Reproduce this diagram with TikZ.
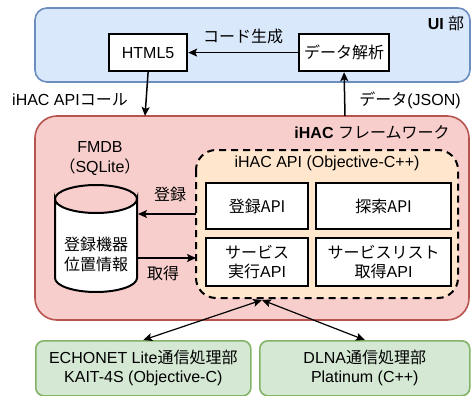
\documentclass[tikz,border=0pt]{standalone}
\usepackage{fontspec}
\setmainfont{Liberation Sans}
\newfontfamily\ja{Noto Sans CJK JP}
\usetikzlibrary{arrows.meta}
\definecolor{uifill}{HTML}{DAE8FC}
\definecolor{uiline}{HTML}{6C8EBF}
\definecolor{fwfill}{HTML}{F8CECC}
\definecolor{fwline}{HTML}{B85450}
\definecolor{apifill}{HTML}{FFE6CC}
\definecolor{commfill}{HTML}{D5E8D4}
\definecolor{commline}{HTML}{82B366}
\tikzset{
  txt/.style={font=\fontsize{16}{19}\selectfont, inner sep=0pt, align=center},
  group/.style={rounded corners=#1, line width=1.6pt},
  whitebox/.style={draw=black, fill=white, line width=2.2pt, txt, anchor=north west},
  flow/.style={line width=1.5pt, -{Stealth[length=9pt,width=8pt,inset=2pt]}},
  link/.style={line width=1.2pt, {Stealth[length=9pt,width=8pt,inset=2pt]}-{Stealth[length=9pt,width=8pt,inset=2pt]}},
}
\begin{document}
\begin{tikzpicture}[x=1pt,y=-1pt]
\useasboundingbox (0,0) rectangle (471,396);

% UI layer
\draw[group=12pt, fill=uifill, draw=uiline] (35,8) rectangle (470,82);
\node[txt, font=\fontsize{16}{19}\selectfont\bfseries] (uilabel) at (446,23) {UI {\ja\mdseries 部}};
\node[whitebox, minimum width=78pt, minimum height=37pt] (html) at (108,33) {HTML5};
\node[whitebox, minimum width=90pt, minimum height=37pt] (parse) at (298,33) {\ja データ解析};
\draw[flow] (parse.west) -- (html.east) node[txt, midway, above=8pt] (gen) {\ja コード生成};

% framework layer
\draw[group=22pt, fill=fwfill, draw=fwline] (35,116) rectangle (469,320);
\node[txt, font=\fontsize{16}{19}\selectfont\bfseries] (fwlabel) at (372,132) {iHAC {\ja\mdseries フレームワーク}};
\coordinate (fwtopL) at (145,116);
\coordinate (fwtopR) at (345,116);
\draw[flow] (html.south) -- (fwtopL);
\node[txt] (calllbl) at (70,100) {iHAC API{\ja コール}};
\draw[flow] (fwtopR) -- (parse.south);
\node[txt] (jsonlbl) at (410,100) {{\ja データ}(JSON)};

% database
\node[txt] (fmdb) at (100,147) {FMDB};
\node[txt] (sqlite) at (100,167) {{\ja （}SQLite{\ja ）}};
\draw[line width=2pt, fill=white]
  (55,199) -- (55,278) arc[start angle=180, end angle=360, x radius=41pt, y radius=14pt]
  -- (137,199) arc[start angle=0, end angle=180, x radius=41pt, y radius=-14pt] -- cycle;
\draw[line width=2pt] (55,199) arc[start angle=180, end angle=360, x radius=41pt, y radius=-14pt];
\node[txt, font=\fontsize{16}{20}\selectfont\ja] (dbtext) at (96,254) {登録機器\\位置情報};

% API group
\draw[fill=apifill, draw=black, line width=2pt, dash pattern=on 7pt off 5pt, rounded corners=20pt]
  (196,150) rectangle (458,298);
\node[txt] (apititle) at (327,163) {iHAC API (Objective-C++)};
\node[whitebox, minimum width=102pt, minimum height=46pt] (reg) at (205,182) {\ja 登録API};
\node[whitebox, minimum width=135pt, minimum height=46pt] (search) at (315,182) {\ja 探索API};
\node[whitebox, minimum width=102pt, minimum height=48pt] (exec) at (205,237) {{\ja サービス}\\{\ja 実行}API};
\node[whitebox, minimum width=135pt, minimum height=48pt] (list) at (315,237) {{\ja サービスリスト}\\{\ja 取得}API};

\coordinate (apiL1) at (196,214);
\coordinate (dbR1) at (138,214);
\coordinate (dbR2) at (137,258);
\coordinate (apiL2) at (196,258);
\draw[flow] (apiL1) -- (dbR1);
\node[txt] (reglbl) at (170,194) {\ja 登録};
\draw[flow] (dbR2) -- (apiL2);
\node[txt] (getlbl) at (163,273) {\ja 取得};

% communication layers
\node[draw=commline, fill=commfill, line width=1.6pt, rounded corners=8pt, txt, minimum width=215pt, minimum height=55pt, anchor=north west] (echonet) at (35,340) {ECHONET Lite{\ja 通信処理部}\\KAIT-4S (Objective-C)};
\node[draw=commline, fill=commfill, line width=1.6pt, rounded corners=8pt, txt, minimum width=210pt, minimum height=55pt, anchor=north west] (dlna) at (259,340) {DLNA{\ja 通信処理部}\\Platinum (C++)};
\coordinate (apibot) at (262,300);
\draw[link] (apibot) -- (echonet.north);
\draw[link] (apibot) -- (dlna.north);
\end{tikzpicture}
\end{document}
